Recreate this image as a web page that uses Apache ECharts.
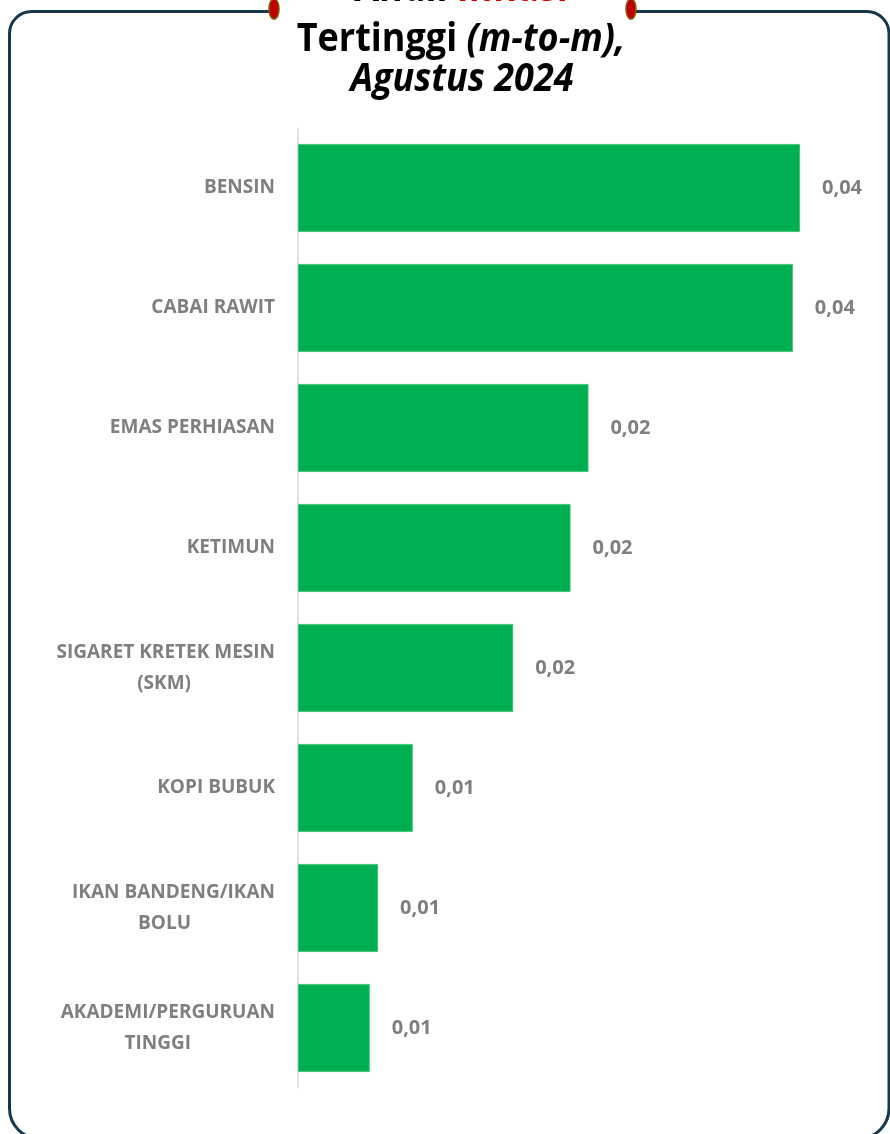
<!DOCTYPE html>
<html>
<head>
<meta charset="utf-8">
<script src="https://cdn.jsdelivr.net/npm/echarts@6/dist/echarts.min.js"></script>
<style>
html,body{margin:0;padding:0;background:#fff;}
#c{width:890px;height:1134px;}
</style>
</head>
<body>
<div id="c"></div>
<script>
const categories = [
  'BENSIN',
  'CABAI RAWIT',
  'EMAS PERHIASAN',
  'KETIMUN',
  'SIGARET KRETEK MESIN\n(SKM)',
  'KOPI BUBUK',
  'IKAN BANDENG/IKAN\nBOLU',
  'AKADEMI/PERGURUAN\nTINGGI'
];
const values = [0.042, 0.0414, 0.0243, 0.0228, 0.018, 0.0096, 0.0067, 0.006];
const titleLines = ['Andil ', 'Inflasi', 'Tertinggi ', '(m-to-m),', 'Agustus 2024'];

const FONT = '"Open Sans", "Noto Sans", sans-serif';
const GRAY = '#7f7f7f';
const chart = echarts.init(document.getElementById('c'), null, {renderer: 'canvas'});

const labelStyle = {fontFamily: FONT, fontWeight: 'bold', fontSize: 19, color: GRAY};
const TS = 36;

const option = {
  backgroundColor: '#ffffff',
  animation: false,
  grid: {left: 298, right: 18.3, top: 128, bottom: 46, containLabel: false},
  xAxis: {
    type: 'value', min: 0, max: 0.048, show: false,
    splitLine: {show: false}
  },
  yAxis: {
    type: 'category',
    inverse: true,
    data: categories,
    axisLine: {show: true, lineStyle: {color: '#d9d9d9', width: 1.5}},
    axisTick: {show: false},
    axisLabel: {
      margin: 23,
      align: 'right',
      lineHeight: 31,
      formatter: function (v) {
        const parts = v.split('\n');
        if (parts.length === 1) return '{a|' + parts[0] + '}';
        return '{a|' + parts[0] + '}\n{a|' + parts[1] + '}{p| }';
      },
      rich: {
        a: Object.assign({lineHeight: 31}, labelStyle),
        p: {width: 84, fontSize: 19, lineHeight: 31}
      }
    }
  },
  series: [{
    type: 'bar',
    data: values,
    barCategoryGap: '26.7%',
    itemStyle: {color: '#00b050', borderColor: '#33c070', borderWidth: 0.8},
    label: {
      show: true,
      position: 'right',
      distance: 22,
      fontFamily: FONT, fontWeight: 'bold', fontSize: 20, color: GRAY,
      formatter: function (p) { return p.value.toFixed(2).replace('.', ','); }
    }
  }],
  graphic: [
    {
      type: 'rect', z: 1,
      shape: {x: 9.5, y: 11.5, width: 879.5, height: 1127, r: [22, 22, 30, 30]},
      style: {fill: 'none', stroke: '#17384c', lineWidth: 3}
    },
    {
      type: 'rect', z: 2,
      shape: {x: 279, y: 4, width: 347, height: 16},
      style: {fill: '#ffffff'}
    },
    {
      type: 'ellipse', z: 3,
      shape: {cx: 274, cy: 9, rx: 5, ry: 10},
      style: {fill: '#c00000', stroke: '#7f5f00', lineWidth: 1.5}
    },
    {
      type: 'ellipse', z: 3,
      shape: {cx: 631, cy: 9, rx: 5, ry: 10},
      style: {fill: '#c00000', stroke: '#7f5f00', lineWidth: 1.5}
    },
    {
      type: 'text', z: 4,
      x: 461, y: -10, scaleY: 1.1,
      style: {
        text: '{n|' + titleLines[0] + '}{r|' + titleLines[1] + '}',
        align: 'center', verticalAlign: 'middle',
        rich: {
          n: {fontFamily: FONT, fontWeight: 'bold', fontSize: TS, fill: '#000'},
          r: {fontFamily: FONT, fontWeight: 'bold', fontSize: TS, fill: '#e00000'}
        }
      }
    },
    {
      type: 'text', z: 4,
      x: 461, y: 40, scaleY: 1.1,
      style: {
        text: '{n|' + titleLines[2] + '}{i|' + titleLines[3] + '}',
        align: 'center', verticalAlign: 'middle',
        rich: {
          n: {fontFamily: FONT, fontWeight: 'bold', fontSize: TS, fill: '#000'},
          i: {fontFamily: FONT, fontWeight: 'bold', fontStyle: 'italic', fontSize: TS, fill: '#000'}
        }
      }
    },
    {
      type: 'text', z: 4,
      x: 462, y: 80, scaleY: 1.1,
      style: {
        text: titleLines[4],
        align: 'center', verticalAlign: 'middle',
        fontFamily: FONT, fontWeight: 'bold', fontStyle: 'italic', fontSize: TS, fill: '#000'
      }
    }
  ]
};
chart.setOption(option);
</script>
</body>
</html>
